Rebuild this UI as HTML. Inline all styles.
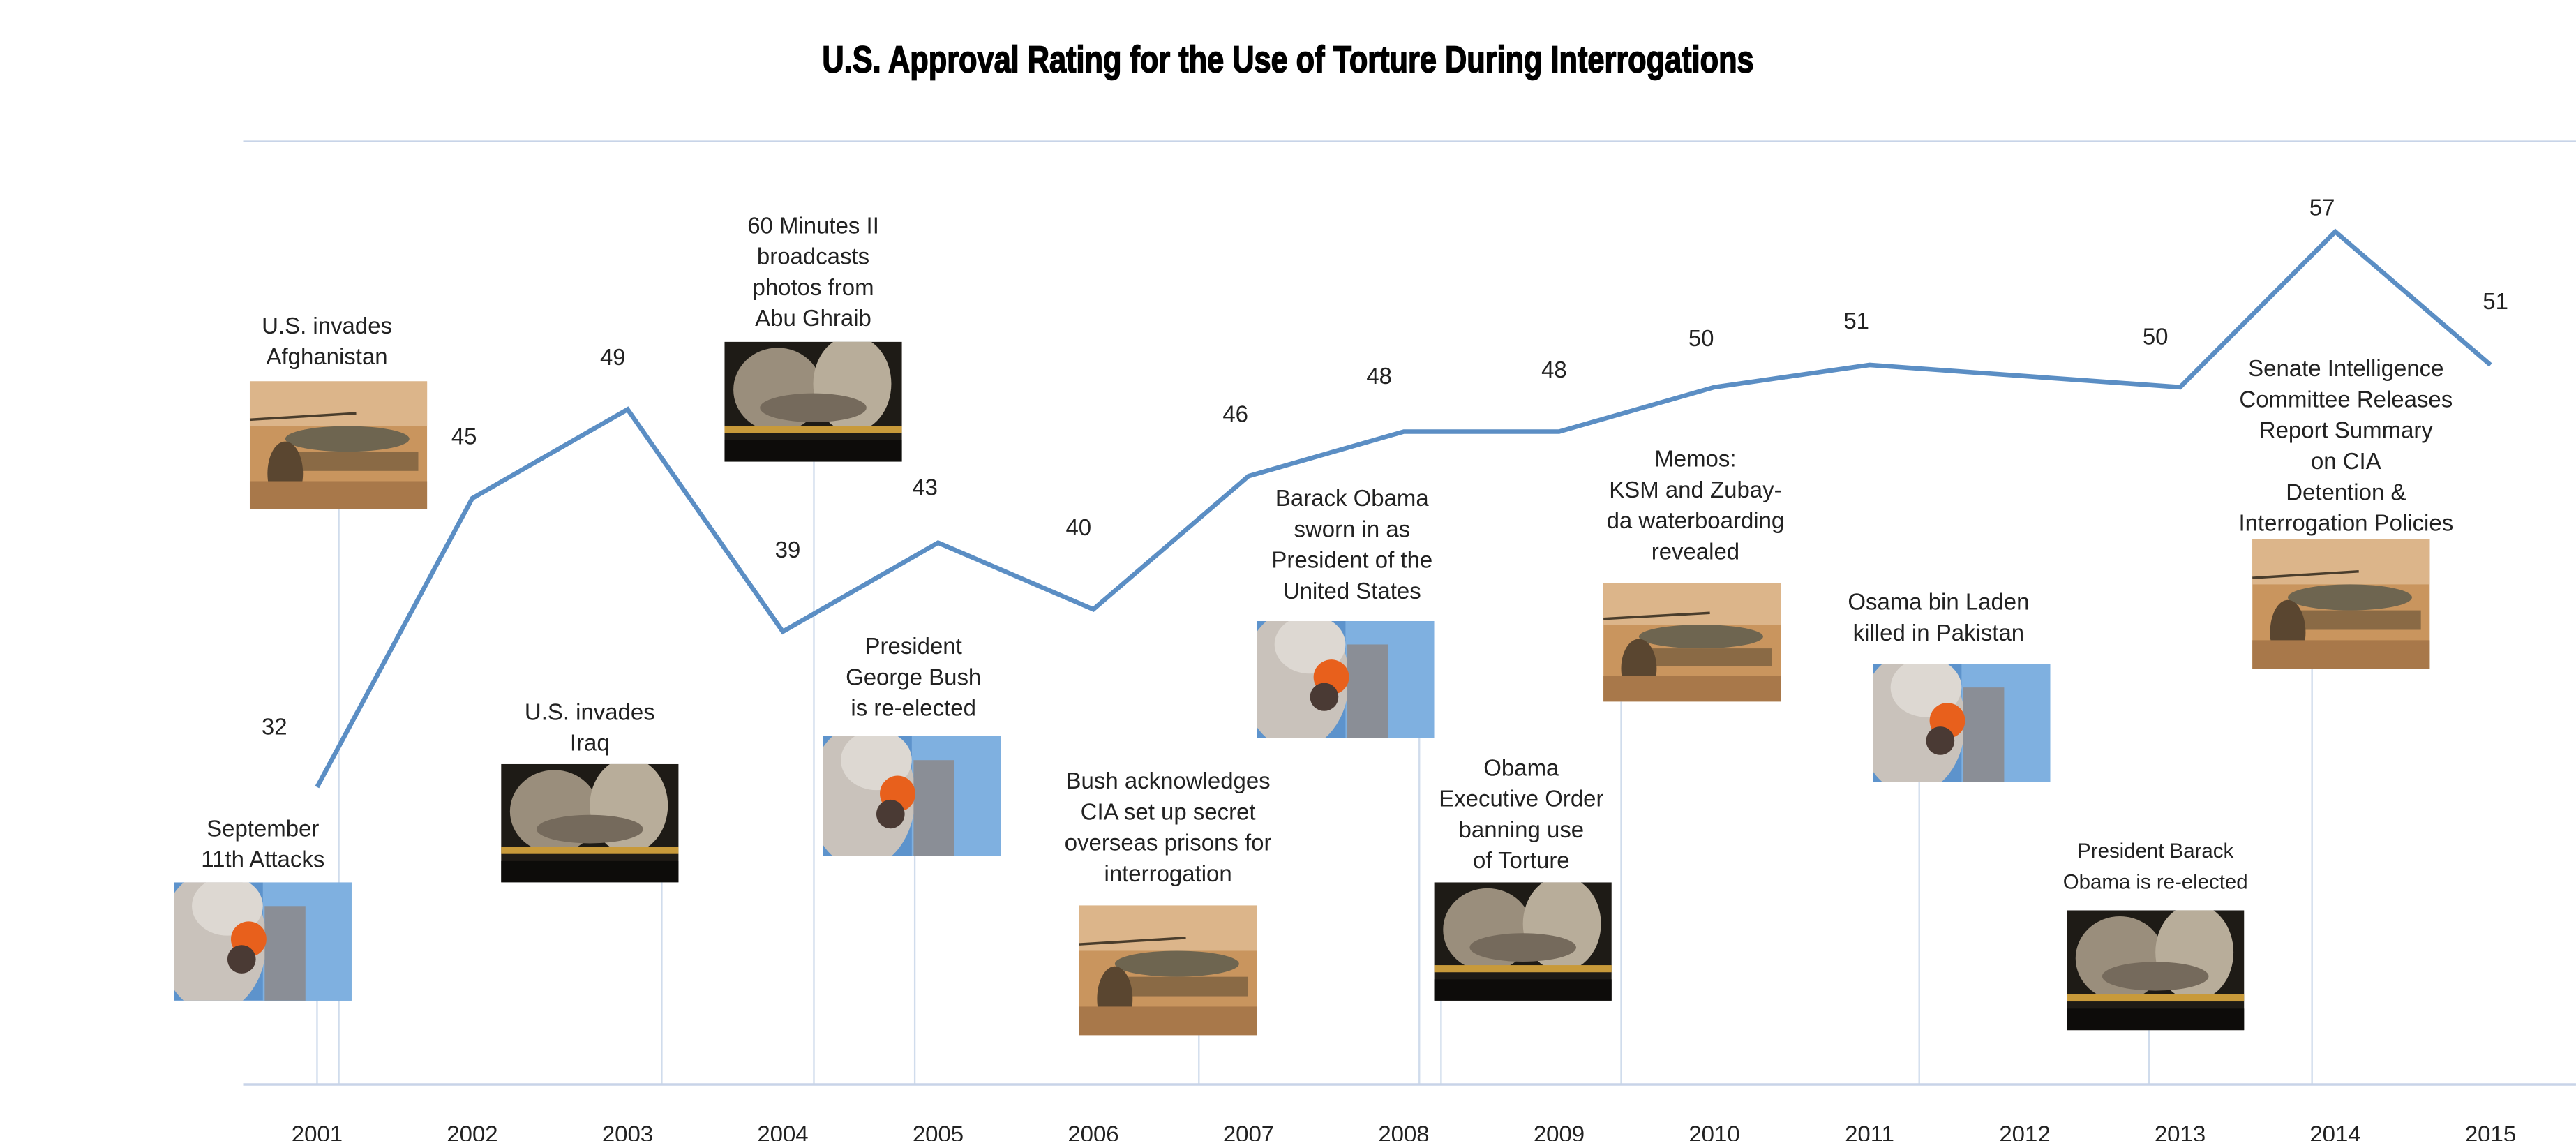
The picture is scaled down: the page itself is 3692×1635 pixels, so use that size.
<!DOCTYPE html>
<html><head><meta charset="utf-8"><style>
html,body{margin:0;padding:0;background:#fff;}
svg{display:block;}
text{font-family:"Liberation Sans",sans-serif;fill:#222;}
</style></head><body>
<svg id="chart" xmlns="http://www.w3.org/2000/svg" width="3692" height="1635" viewBox="0 0 1568 694.4">
<rect width="1568" height="694.4" fill="#fff"/>
<text x="784" y="44" text-anchor="middle" style="font-family:'Liberation Sans Narrow','Liberation Sans',sans-serif;font-weight:bold;font-size:23px;fill:#000;stroke:#000;stroke-width:0.7" transform="translate(784 0) scale(0.8 1) translate(-784 0)">U.S. Approval Rating for the Use of Torture During Interrogations</text>
<line x1="148" y1="86" x2="1568" y2="86" stroke="#c8d4e8" stroke-width="1"/>
<g id="droplines"></g>
<g id="events"></g>
<line x1="148" y1="660" x2="1568" y2="660" stroke="#c8d4e8" stroke-width="1.5"/>
<g id="xticks"></g>
<g id="series"></g>
</svg>
<script>
const years = [2001,2002,2003,2004,2005,2006,2007,2008,2009,2010,2011,2012,2013,2014,2015];
const approval = [32,45,49,39,43,40,46,48,48,50,51,null,50,57,51];
const eventYears = [2001.0, 2001.14, 2003.22, 2004.2, 2004.85, 2006.68, 2008.1, 2008.24, 2009.4, 2011.32, 2012.8, 2013.85];
const eventTexts = [
 ["September","11th Attacks"],
 ["U.S. invades","Afghanistan"],
 ["U.S. invades","Iraq"],
 ["60 Minutes II","broadcasts","photos from","Abu Ghraib"],
 ["President","George Bush","is re-elected"],
 ["Bush acknowledges","CIA set up secret","overseas prisons for","interrogation"],
 ["Barack Obama","sworn in as","President of the","United States"],
 ["Obama","Executive Order","banning use","of Torture"],
 ["Memos:","KSM and Zubay-","da waterboarding","revealed"],
 ["Osama bin Laden","killed in Pakistan"],
 ["President Barack","Obama is re-elected"],
 ["Senate Intelligence","Committee Releases","Report Summary","on CIA","Detention &","Interrogation Policies"]
];
const eventPhotos = ["wtc","desert","night","night","wtc","desert","wtc","night","desert","wtc","night","desert"];
const evLayout = [
 {cx:160,ty:509,ix:106,iy:537,ih:72},
 {cx:199,ty:203,ix:152,iy:232,ih:78},
 {cx:359,ty:438,ix:305,iy:465,ih:72},
 {cx:495,ty:142,ix:441,iy:208,ih:73},
 {cx:556,ty:398,ix:501,iy:448,ih:73},
 {cx:711,ty:480,ix:657,iy:551,ih:79},
 {cx:823,ty:308,ix:765,iy:378,ih:71},
 {cx:926,ty:472,ix:873,iy:537,ih:72},
 {cx:1032,ty:284,ix:976,iy:355,ih:72},
 {cx:1180,ty:371,ix:1140,iy:404,ih:72},
 {cx:1312,ty:522,ix:1258,iy:554,ih:73,fs:12.5},
 {cx:1428,ty:229,ix:1371,iy:328,ih:79}
];
const labelDx=[-26,-5,-9,3,-8,-9,-8,-15,-3,-8,-8,0,-15,-8,3];
const labelDy=[-32,-33,-27,-45,-29,-45,-33,-29,-33,-25,-22,0,-26,-10,-34];
const NS="http://www.w3.org/2000/svg";
function xs(y){return 193+(y-2001)*94.5;}
function ys(v){return 479-(v-32)*13.52;}
function mk(tag,attrs,parent){const e=document.createElementNS(NS,tag);for(const k in attrs)e.setAttribute(k,attrs[k]);parent.appendChild(e);return e;}
const xt=document.getElementById('xticks');
years.forEach((y,i)=>{
 const t=mk('text',{x:xs(y),y:695,'text-anchor':'middle','font-size':'14'},xt);
 
 
 t.textContent=y;
});
const dl=document.getElementById('droplines');
const ev=document.getElementById('events');
function photo(g,kind,x,y,h){
 const w=108;
 const id='c'+Math.round(x)+'_'+Math.round(y);
 const cp=mk('clipPath',{id:id},g);mk('rect',{x:x,y:y,width:w,height:h},cp);
 const p=mk('g',{'clip-path':'url(#'+id+')'},g);
 if(kind==='wtc'){
  mk('rect',{x:x,y:y,width:w,height:h,fill:'#5d93cc'},p);
  mk('rect',{x:x+w*0.5,y:y,width:w*0.5,height:h,fill:'#7fb0e0'},p);
  mk('ellipse',{cx:x+w*0.22,cy:y+h*0.5,rx:w*0.3,ry:h*0.6,fill:'#c9c2bb'},p);
  mk('ellipse',{cx:x+w*0.3,cy:y+h*0.2,rx:w*0.2,ry:h*0.25,fill:'#ddd8d2'},p);
  mk('rect',{x:x+w*0.51,y:y+h*0.2,width:w*0.23,height:h*0.8,fill:'#8a8e96'},p);
  mk('ellipse',{cx:x+w*0.42,cy:y+h*0.48,rx:w*0.1,ry:h*0.15,fill:'#e8601c'},p);
  mk('ellipse',{cx:x+w*0.38,cy:y+h*0.65,rx:w*0.08,ry:h*0.12,fill:'#4a3a34'},p);
 }else if(kind==='night'){
  mk('rect',{x:x,y:y,width:w,height:h,fill:'#1e1b16'},p);
  mk('ellipse',{cx:x+w*0.3,cy:y+h*0.4,rx:w*0.25,ry:h*0.35,fill:'#9a8e7c'},p);
  mk('ellipse',{cx:x+w*0.72,cy:y+h*0.35,rx:w*0.22,ry:h*0.4,fill:'#b8ad9a'},p);
  mk('ellipse',{cx:x+w*0.5,cy:y+h*0.55,rx:w*0.3,ry:h*0.12,fill:'#756a5c'},p);
  mk('rect',{x:x,y:y+h*0.7,width:w,height:h*0.06,fill:'#c89a3a'},p);
  mk('rect',{x:x,y:y+h*0.82,width:w,height:h*0.18,fill:'#0d0c0a'},p);
 }else{
  mk('rect',{x:x,y:y,width:w,height:h,fill:'#c9955e'},p);
  mk('rect',{x:x,y:y,width:w,height:h*0.35,fill:'#dcb58a'},p);
  mk('ellipse',{cx:x+w*0.55,cy:y+h*0.45,rx:w*0.35,ry:h*0.1,fill:'#6e6550'},p);
  mk('line',{x1:x,y1:y+h*0.3,x2:x+w*0.6,y2:y+h*0.25,stroke:'#4a3d2c','stroke-width':1.5},p);
  mk('rect',{x:x+w*0.25,y:y+h*0.55,width:w*0.7,height:h*0.15,fill:'#8a6a45'},p);
  mk('ellipse',{cx:x+w*0.2,cy:y+h*0.72,rx:w*0.1,ry:h*0.25,fill:'#5a4630'},p);
  mk('rect',{x:x,y:y+h*0.78,width:w,height:h*0.22,fill:'#a8784a'},p);
 }
}
eventYears.forEach((ey,i)=>{
 const L=evLayout[i];
 const l=mk('line',{x1:xs(ey),y1:L.iy+L.ih,x2:xs(ey),y2:660,stroke:'#d0dcec','stroke-width':1},dl);
 
 
 const g=mk('g',{},ev);
 
 
 const fs=L.fs||14;
 eventTexts[i].forEach((s,j)=>{
  const t=mk('text',{x:L.cx,y:L.ty+j*18.8,'text-anchor':'middle','font-size':fs},g);
  
  
  t.textContent=s;
 });
 const pg=mk('g',{},g);
 
 
 photo(pg,eventPhotos[i],L.ix,L.iy,L.ih);
});
const sg=document.getElementById('series');
let d='';
years.forEach((y,i)=>{const v=approval[i];if(v==null)return;d+=(d?'L':'M')+xs(y)+' '+ys(v)+' ';});
const path=mk('path',{d:d,fill:'none',stroke:'#5b8ec4','stroke-width':2.8,'stroke-linejoin':'miter'},sg);


years.forEach((y,i)=>{
 const v=approval[i];if(v==null)return;
 const t=mk('text',{x:xs(y)+labelDx[i],y:ys(v)+labelDy[i],'text-anchor':'middle','font-size':14},sg);
 
 
 t.textContent=v;
});
</script>
</body></html>
